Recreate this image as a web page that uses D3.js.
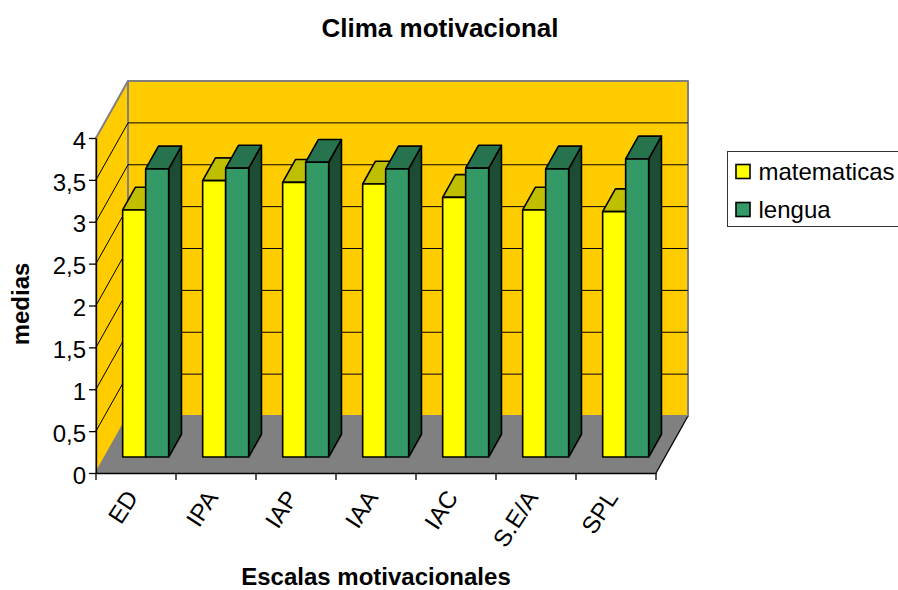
<!DOCTYPE html>
<html>
<head>
<meta charset="utf-8">
<script src="https://cdnjs.cloudflare.com/ajax/libs/d3/7.8.5/d3.min.js"></script>
<style>
  html, body { margin: 0; padding: 0; background: #fff; overflow: hidden; }
  text { font-family: "Liberation Sans", Arial, sans-serif; fill: #000; }
  .axis path, .axis line { stroke: #000; stroke-width: 1.3; }
</style>
</head>
<body>
<svg id="chart" width="898" height="590"></svg>
<script>
const categories = ["ED", "IPA", "IAP", "IAA", "IAC", "S.E/A", "SPL"];
const seriesNames = ["matematicas", "lengua"];
const matematicas = [2.95, 3.30, 3.28, 3.26, 3.10, 2.95, 2.93];
const lengua = [3.44, 3.45, 3.52, 3.44, 3.45, 3.44, 3.56];
const valueTicks = [0, 0.5, 1, 1.5, 2, 2.5, 3, 3.5, 4];

const frontFill = ["#ffff00", "#339966"];
const topFill = ["#bfbf00", "#26734d"];
const sideFill = ["#999900", "#1c4d33"];

const svg = d3.select("#chart");

// oblique projection, depth goes from 0 (front) to 1 (back wall)
const depthX = 32;
const depthY = -57;
const x = d3.scaleBand().domain(categories).range([96, 656]);
const y = d3.scaleLinear().domain([0, 4]).range([473, 138]);
const barDepth = [0.28, 0.68];
const inner = d3.scaleBand().domain(seriesNames).range([0, 46]);

function pt(px, value, depth) {
  return [px + depthX * depth, y(value) + depthY * depth];
}
const line = d3.line();
function poly(points, fill, stroke, width) {
  svg.append("path")
    .attr("d", line(points) + "Z")
    .attr("fill", fill)
    .attr("stroke", stroke)
    .attr("stroke-width", width)
    .attr("stroke-linejoin", "round");
}

const xLeft = x.range()[0];
const xRight = x.range()[1];

// walls
poly([pt(xLeft, 0, 1), pt(xRight, 0, 1), pt(xRight, 4, 1), pt(xLeft, 4, 1)], "#ffcc00", "#808080", 2);
poly([pt(xLeft, 0, 0), pt(xLeft, 0, 1), pt(xLeft, 4, 1), pt(xLeft, 4, 0)], "#ffcc00", "#808080", 2);

// grid lines on both walls
svg.append("g")
  .selectAll("path")
  .data(valueTicks.slice(1, -1))
  .enter()
  .append("path")
  .attr("d", (v) => line([pt(xLeft, v, 0), pt(xLeft, v, 1), pt(xRight, v, 1)]))
  .attr("fill", "none")
  .attr("stroke", "#000")
  .attr("stroke-width", 1);

// floor
poly([pt(xLeft, 0, 0), pt(xLeft, 0, 1), pt(xRight, 0, 1), pt(xRight, 0, 0)], "#808080", "none", 0);
svg.append("path")
  .attr("d", line([pt(xRight, 0, 0), pt(xRight, 0, 1)]))
  .attr("stroke", "#000")
  .attr("stroke-width", 1.3);
svg.append("path")
  .attr("d", line([pt(xLeft, 0, 1), pt(xRight, 0, 1)]))
  .attr("stroke", "#808080")
  .attr("stroke-width", 1);

// bars
const seriesValues = [matematicas, lengua];
const barOffset = (x.bandwidth() - 46) / 2 + 0.7;
categories.forEach((cat, i) => {
  seriesValues.forEach((values, s) => {
    const v = values[i];
    const x0 = x(cat) + barOffset + inner(seriesNames[s]);
    const x1 = x0 + inner.bandwidth();
    const [d0, d1] = barDepth;
    poly([pt(x1, 0, d0), pt(x1, 0, d1), pt(x1, v, d1), pt(x1, v, d0)], sideFill[s], "#000", 1.6);
    poly([pt(x0, v, d0), pt(x0, v, d1), pt(x1, v, d1), pt(x1, v, d0)], topFill[s], "#000", 1.6);
    poly([pt(x0, 0, d0), pt(x1, 0, d0), pt(x1, v, d0), pt(x0, v, d0)], frontFill[s], "#000", 1.6);
  });
});

// axes
const yAxis = d3.axisLeft(y)
  .tickValues(valueTicks)
  .tickSize(7)
  .tickSizeOuter(0)
  .tickFormat((d) => String(d).replace(".", ","));
const yG = svg.append("g")
  .attr("class", "axis")
  .attr("transform", `translate(${xLeft},0)`)
  .call(yAxis);
yG.selectAll("text")
  .style("font-size", "24px")
  .attr("x", -10)
  .attr("y", 2.5);

const xAxis = d3.axisBottom(x).tickSize(0).tickSizeOuter(0);
const xG = svg.append("g")
  .attr("class", "axis")
  .attr("transform", `translate(0,${y(0)})`)
  .call(xAxis);
xG.selectAll("g.tick text")
  .style("font-size", "24px")
  .attr("text-anchor", "end")
  .attr("transform", "translate(-4,20) rotate(-57)")
  .attr("x", 0)
  .attr("y", 0)
  .attr("dy", "0.35em");
// tick marks sit on the category boundaries
xG.selectAll("line.boundary")
  .data(categories.map((c) => x(c)).concat(xRight))
  .enter()
  .append("line")
  .attr("class", "boundary")
  .attr("x1", (d) => d)
  .attr("x2", (d) => d)
  .attr("y1", 0)
  .attr("y2", 7);

// titles
svg.append("text")
  .attr("x", 440)
  .attr("y", 37)
  .attr("text-anchor", "middle")
  .style("font-size", "26px")
  .style("font-weight", "bold")
  .text("Clima motivacional");
svg.append("text")
  .attr("x", 376)
  .attr("y", 585)
  .attr("text-anchor", "middle")
  .style("font-size", "24px")
  .style("font-weight", "bold")
  .text("Escalas motivacionales");
svg.append("text")
  .attr("transform", "translate(29,304) rotate(-90)")
  .attr("text-anchor", "middle")
  .style("font-size", "24px")
  .style("font-weight", "bold")
  .text("medias");

// legend, runs off the right edge like the original
const legend = svg.append("g").attr("transform", "translate(727.5,151.5)");
legend.append("rect")
  .attr("width", 190)
  .attr("height", 75)
  .attr("fill", "#fff")
  .attr("stroke", "#333")
  .attr("stroke-width", 1);
seriesNames.forEach((name, s) => {
  legend.append("rect")
    .attr("x", 8.5)
    .attr("y", 13 + s * 38)
    .attr("width", 14)
    .attr("height", 14)
    .attr("fill", frontFill[s])
    .attr("stroke", "#000")
    .attr("stroke-width", 1.6);
  legend.append("text")
    .attr("x", 31)
    .attr("y", 28 + s * 38)
    .style("font-size", "24px")
    .text(name);
});
</script>
</body>
</html>
